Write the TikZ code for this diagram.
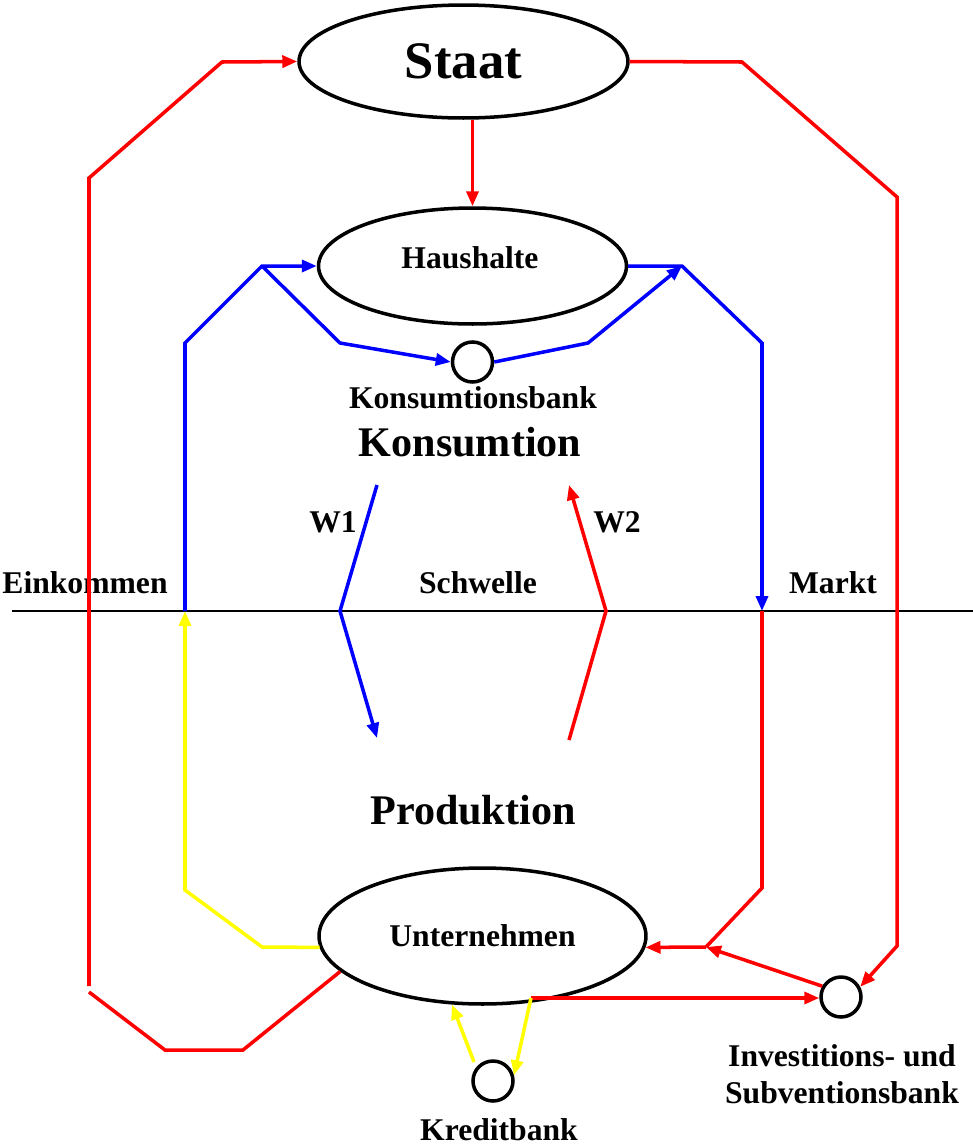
\documentclass[tikz,border=0pt]{standalone}
\usepackage{fontspec}
\setmainfont{Liberation Serif}
\usetikzlibrary{arrows.meta,shapes.geometric,calc}
\definecolor{fred}{RGB}{255,0,0}
\definecolor{fblue}{RGB}{0,0,255}
\definecolor{fyellow}{RGB}{255,255,0}
\begin{document}
\begin{tikzpicture}[x=0.02cm,y=-0.02cm,
  every node/.style={font=\bfseries},
  sector/.style={draw=black,ellipse,line width=2pt,inner sep=0pt},
  bank/.style={draw=black,circle,line width=2pt,inner sep=0pt,minimum size=0.8cm},
  lbl/.style={font=\fontsize{18}{21}\selectfont\bfseries,inner sep=0pt},
  biglbl/.style={font=\fontsize{24}{28}\selectfont\bfseries,inner sep=0pt},
  wire/.style={line width=2pt,line join=miter},
  tip/.style={-{Triangle[length=0.3cm,width=0.24cm]}},
  money/.style={wire,fred},
  goods/.style={wire,fblue},
  credit/.style={wire,fyellow}]
\useasboundingbox (0,0) rectangle (973,1147);

% sectors and banks
\node[sector,minimum width=6.58cm,minimum height=2.26cm,font=\fontsize{30}{36}\selectfont\bfseries] (staat) at (463.5,61.5) {Staat};
\node[sector,minimum width=6.16cm,minimum height=2.32cm] (haus) at (472.5,266) {};
\node[lbl] (haustxt) at (470,258) {Haushalte};
\node[sector,minimum width=6.54cm,minimum height=2.72cm,font=\fontsize{18}{21}\selectfont\bfseries] (unt) at (482.5,936) {Unternehmen};
\node[bank] (kons) at (472.5,362) {};
\node[bank] (kred) at (493,1081) {};
\node[bank] (inv) at (841,997) {};

% labels
\node[lbl] (konslbl) at (473,398) {Konsumtionsbank};
\node[biglbl] (konsum) at (470,442) {Konsumtion};
\node[biglbl] (prod) at (473,810) {Produktion};
\node[lbl] (w1) at (333,522) {W1};
\node[lbl] (w2) at (617,522) {W2};
\node[lbl] (schw) at (478,583) {Schwelle};
\node[lbl] (eink) at (85,583) {Einkommen};
\node[lbl] (markt) at (833,583) {Markt};
\node[lbl] (kredlbl) at (499,1130) {Kreditbank};
\node[lbl,align=center] (invlbl) at (842,1074) {Investitions- und\\Subventionsbank};

% threshold line
\coordinate (h0) at (12,611);
\coordinate (h1) at (973,611);
\draw[line width=1.2pt] (h0) -- (h1);

% bend points
\coordinate (la) at (89,992);
\coordinate (lb) at (89,986);
\coordinate (lc) at (89,178);
\coordinate (ld) at (222,62);
\coordinate (le) at (165,1050);
\coordinate (lf) at (243,1050);
\coordinate (ra) at (742,62);
\coordinate (rb) at (897,197);
\coordinate (rc) at (897,946);
\coordinate (ma) at (762,611);
\coordinate (mb) at (762,888);
\coordinate (mc) at (706,947);
\coordinate (ba) at (185,611);
\coordinate (bb) at (185,343);
\coordinate (bc) at (262,266);
\coordinate (bd) at (340,343);
\coordinate (be) at (588,343);
\coordinate (bf) at (682,266);
\coordinate (bg) at (762,343);
\coordinate (ya) at (262,947);
\coordinate (yb) at (185,890);
\coordinate (ka) at ($(kred.center)+(-19,-19)$);
\coordinate (ub) at (531,998);
\coordinate (w1a) at (377,485);
\coordinate (w1b) at (340,611);
\coordinate (w1c) at (377,738);
\coordinate (w2a) at (569,740);
\coordinate (w2b) at (606,611);
\coordinate (w2c) at (569,485);

% money flows (red)
\draw[money] (unt.194) -- (lf) -- (le) -- (la);
\draw[money,tip] (lb) -- (lc) -- (ld) -- (staat.west);
\draw[money,tip] (staat.east) -- (ra) -- (rb) -- (rc) -- (inv.28);
\draw[money,tip] (haus.north |- staat.south) -- (haus.north);
\draw[money] (ma) -- (mb) -- (mc);
\draw[money,tip] (mc) -- (unt.-4);
\draw[money,tip] (inv.150) -- (mc);
\draw[money,tip] (ub) -- (ub -| inv.west);
\draw[money,tip] (w2a) -- (w2b) -- (w2c);

% goods flows (blue)
\draw[goods,tip] (ba) -- (bb) -- (bc) -- (haus.west);
\draw[goods,tip] (bc) -- (bd) -- (kons.west);
\draw[goods,tip] (kons.east) -- (be) -- (bf);
\draw[goods,tip] (haus.east) -- (bf) -- (bg) -- (ma);
\draw[goods,tip] (w1a) -- (w1b) -- (w1c);

% credit flows (yellow)
\draw[credit,tip] (unt.184) -- (ya) -- (yb) -- (ba);
\draw[credit,tip] (ka) -- (unt.-114);
\draw[credit,tip] (ub) -- (kred.15);
\end{tikzpicture}
\end{document}
